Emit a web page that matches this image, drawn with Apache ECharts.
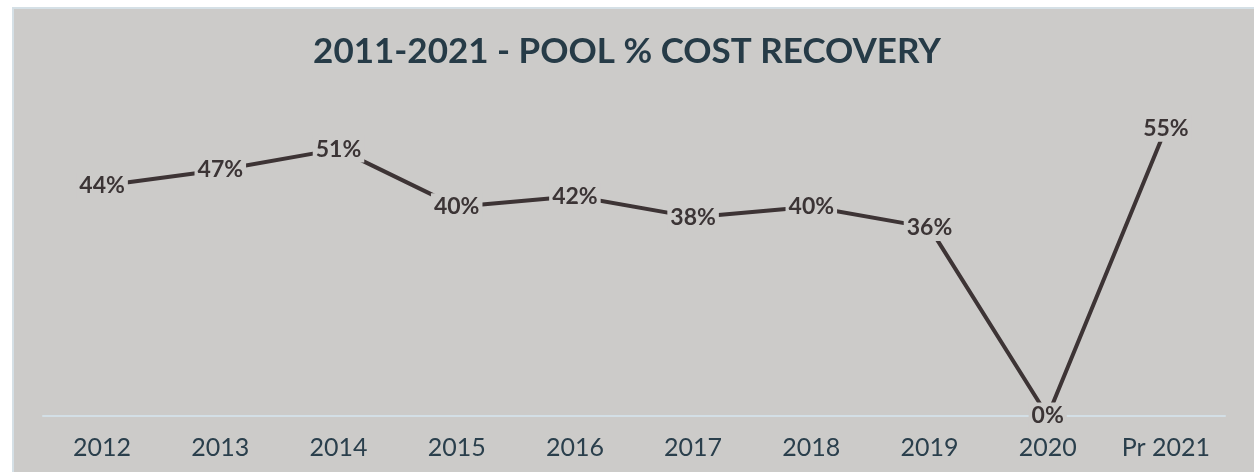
<!DOCTYPE html>
<html>
<head>
<meta charset="utf-8">
<script src="https://cdn.jsdelivr.net/npm/echarts@6/dist/echarts.min.js"></script>
<style>
html,body{margin:0;padding:0;background:#ffffff;width:1254px;height:472px;overflow:hidden;}
#bg{position:absolute;left:12px;top:7px;width:1260px;height:480px;background:#cccbc9;border-left:2px solid #d5e0e6;border-top:2px solid #d5e0e6;}
#chart{position:absolute;left:0;top:0;width:1254px;height:472px;}
</style>
</head>
<body>
<div id="bg"></div>
<div id="chart"></div>
<script>
const categories = ['2012','2013','2014','2015','2016','2017','2018','2019','2020','Pr 2021'];
const recovery = [44, 47, 51, 40, 42, 38, 40, 36, 0, 55];
const titleText = '2011-2021 - POOL % COST RECOVERY';

const chart = echarts.init(document.getElementById('chart'), null, {renderer:'canvas'});
chart.setOption({
  backgroundColor: 'transparent',
  animation: false,
  title: {
    text: titleText,
    left: 'center',
    top: 29,
    textStyle: {
      fontFamily: 'Lato, "DejaVu Sans", sans-serif',
      fontWeight: 'bold',
      fontSize: 35,
      color: '#263b47'
    }
  },
  grid: {left: 43, right: 29, top: 102, bottom: 56},
  xAxis: {
    type: 'category',
    data: categories,
    boundaryGap: true,
    axisLine: {show: true, lineStyle: {color: '#d3dfe6', width: 2}},
    axisTick: {show: false},
    axisLabel: {
      margin: 19,
      fontFamily: 'Lato, "DejaVu Sans", sans-serif',
      fontSize: 25,
      color: '#2a3f4c'
    }
  },
  yAxis: {
    type: 'value',
    min: 0,
    max: 60,
    show: false,
    splitLine: {show: false}
  },
  series: [{
    type: 'line',
    data: recovery,
    symbol: 'circle',
    symbolSize: 0,
    showSymbol: true,
    lineStyle: {color: '#3d3435', width: 4},
    itemStyle: {color: '#3d3435'},
    label: {
      show: true,
      position: 'inside',
      formatter: '{c}%',
      fontFamily: 'Lato, "DejaVu Sans", sans-serif',
      fontWeight: 'bold',
      fontSize: 23,
      color: '#3b3435',
      backgroundColor: '#cccbc9',
      padding: [2, 3]
    },
    z: 3
  }]
});
</script>
</body>
</html>
